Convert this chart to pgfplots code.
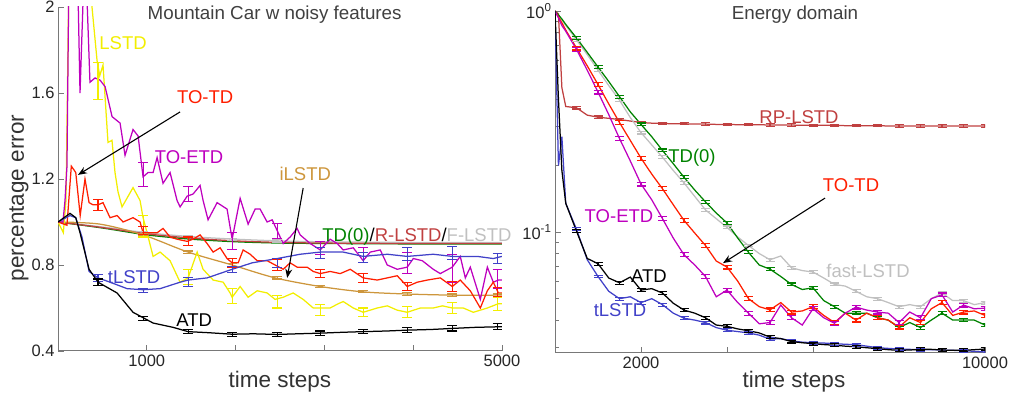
\documentclass[border=0pt]{standalone}
\usepackage{pgfplots}
\pgfplotsset{compat=1.18}
\usepackage{pgfplotstable}
\usetikzlibrary{arrows.meta}
\usepackage{fontspec}
\setmainfont{Liberation Sans}

\definecolor{cyel}{RGB}{242,238,0}
\definecolor{cred}{RGB}{255,30,0}
\definecolor{cmag}{RGB}{190,0,190}
\definecolor{cblue}{RGB}{65,65,200}
\definecolor{cgold}{RGB}{205,150,60}
\definecolor{cgreen}{RGB}{0,130,0}
\definecolor{crl}{RGB}{192,64,64}
\definecolor{cgray}{RGB}{192,192,192}
\definecolor{caxis}{RGB}{120,120,120}
\definecolor{ctitle}{RGB}{64,64,64}

\pgfplotsset{
  mystyle/.style={
    scale only axis, axis lines*=left,
    axis line style={caxis, line width=1pt},
    tick align=inside, major tick length=6pt, minor tick length=4pt,
    tick style={caxis, line width=0.8pt},
    ticklabel style={font=\fontsize{16.5}{18}\selectfont, text=black!85},
    /pgf/number format/assume math mode=true,
    scaled x ticks=false, scaled y ticks=false,
    clip mode=individual,
    every axis plot/.append style={line width=1.25pt},
  },
  ebl/.style={draw=none, mark=none,
    error bars/.cd, y dir=both, y explicit,
    error bar style={draw=#1, line width=1.1pt},
    error mark options={rotate=90, mark size=5pt, draw=#1, line width=1.1pt}},
  ebright/.style={draw=none, mark=none, skip coords between index={0}{4}, each nth point=2,
    error bars/.cd, y dir=both, y explicit relative,
    error bar style={draw=#1, line width=1.1pt},
    error mark options={rotate=90, mark size=4.5pt, draw=#1, line width=1.1pt}},
}
\newcommand{\annfont}{\fontsize{18.5}{20}\selectfont}

% ---------- Energy domain data (x, y) ----------
\pgfplotstableread[row sep=\\]{
x y\\ 0 1\\ 80 0.96\\ 160 0.92\\ 250 0.87\\ 500 0.755\\ 750 0.65\\ 1000 0.558\\ 1250 0.48\\ 1500 0.41\\ 1750 0.35\\ 2000 0.307\\ 2250 0.27\\ 2500 0.234\\ 2750 0.204\\ 3000 0.177\\ 3250 0.155\\ 3500 0.137\\ 3750 0.122\\ 4000 0.110\\ 4250 0.094\\ 4500 0.081\\ 4750 0.071\\ 5000 0.068\\ 5250 0.063\\ 5500 0.058\\ 5750 0.055\\ 6000 0.056\\ 6250 0.049\\ 6500 0.046\\ 6750 0.043\\ 7000 0.043\\ 7250 0.043\\ 7500 0.041\\ 7750 0.040\\ 8000 0.037\\ 8250 0.039\\ 8500 0.037\\ 8750 0.040\\ 9000 0.043\\ 9250 0.040\\ 9500 0.040\\ 9750 0.040\\ 10000 0.038\\
}\Etd
\pgfplotstableread[row sep=\\]{
x y\\ 0 1\\ 80 0.955\\ 160 0.91\\ 250 0.86\\ 500 0.74\\ 750 0.635\\ 1000 0.54\\ 1250 0.46\\ 1500 0.395\\ 1750 0.33\\ 2000 0.282\\ 2250 0.248\\ 2500 0.218\\ 2750 0.19\\ 3000 0.167\\ 3250 0.145\\ 3500 0.126\\ 3750 0.115\\ 4000 0.105\\ 4250 0.095\\ 4500 0.087\\ 4750 0.080\\ 5000 0.075\\ 5250 0.078\\ 5500 0.069\\ 5750 0.067\\ 6000 0.066\\ 6250 0.062\\ 6500 0.058\\ 6750 0.057\\ 7000 0.054\\ 7250 0.051\\ 7500 0.050\\ 7750 0.048\\ 8000 0.046\\ 8250 0.047\\ 8500 0.046\\ 8750 0.050\\ 9000 0.053\\ 9250 0.049\\ 9500 0.049\\ 9750 0.047\\ 10000 0.048\\
}\Efast
\pgfplotstableread[row sep=\\]{
x y\\ 0 1\\ 80 0.94\\ 160 0.885\\ 250 0.82\\ 500 0.68\\ 750 0.565\\ 1000 0.465\\ 1250 0.38\\ 1500 0.313\\ 1750 0.26\\ 2000 0.216\\ 2250 0.183\\ 2500 0.157\\ 2750 0.133\\ 3000 0.113\\ 3250 0.099\\ 3500 0.087\\ 3750 0.074\\ 4000 0.0695\\ 4250 0.060\\ 4500 0.050\\ 4750 0.046\\ 5000 0.0445\\ 5250 0.048\\ 5500 0.0435\\ 5750 0.044\\ 6000 0.046\\ 6250 0.042\\ 6500 0.039\\ 6750 0.043\\ 7000 0.040\\ 7250 0.043\\ 7500 0.041\\ 7750 0.040\\ 8000 0.0372\\ 8250 0.041\\ 8500 0.039\\ 8750 0.045\\ 9000 0.048\\ 9250 0.042\\ 9500 0.0435\\ 9750 0.044\\ 10000 0.042\\
}\Etotd
\pgfplotstableread[row sep=\\]{
x y\\ 0 1\\ 80 0.93\\ 160 0.86\\ 250 0.81\\ 500 0.67\\ 750 0.54\\ 1000 0.43\\ 1250 0.34\\ 1500 0.265\\ 1750 0.21\\ 2000 0.165\\ 2250 0.14\\ 2500 0.115\\ 2750 0.094\\ 3000 0.079\\ 3250 0.071\\ 3500 0.063\\ 3750 0.051\\ 4000 0.0547\\ 4250 0.048\\ 4500 0.043\\ 4750 0.0385\\ 5000 0.039\\ 5250 0.0468\\ 5500 0.041\\ 5750 0.038\\ 6000 0.045\\ 6250 0.041\\ 6500 0.0387\\ 6750 0.043\\ 7000 0.0458\\ 7250 0.0444\\ 7500 0.0435\\ 7750 0.043\\ 8000 0.039\\ 8250 0.0435\\ 8500 0.041\\ 8750 0.050\\ 9000 0.052\\ 9250 0.0435\\ 9500 0.0468\\ 9750 0.045\\ 10000 0.0453\\
}\Etoetd
\pgfplotstableread[row sep=\\]{
x y\\ 0 1\\ 80 0.97\\ 160 0.45\\ 250 0.37\\ 500 0.365\\ 750 0.338\\ 1000 0.331\\ 1250 0.327\\ 1500 0.323\\ 1750 0.318\\ 2000 0.313\\ 2250 0.311\\ 2500 0.31\\ 2750 0.309\\ 3000 0.309\\ 3250 0.308\\ 3500 0.308\\ 3750 0.307\\ 4000 0.307\\ 4250 0.306\\ 4500 0.306\\ 4750 0.306\\ 5000 0.305\\ 5250 0.305\\ 5500 0.305\\ 5750 0.304\\ 6000 0.304\\ 6250 0.304\\ 6500 0.304\\ 6750 0.303\\ 7000 0.303\\ 7250 0.303\\ 7500 0.303\\ 7750 0.302\\ 8000 0.302\\ 8250 0.302\\ 8500 0.302\\ 8750 0.302\\ 9000 0.302\\ 9250 0.302\\ 9500 0.302\\ 9750 0.302\\ 10000 0.302\\
}\Erp
\pgfplotstableread[row sep=\\]{
x y\\ 0 1\\ 80 0.4\\ 160 0.19\\ 250 0.135\\ 500 0.101\\ 750 0.076\\ 1000 0.072\\ 1250 0.062\\ 1500 0.059\\ 1750 0.0626\\ 2000 0.0547\\ 2250 0.0555\\ 2500 0.053\\ 2750 0.0477\\ 3000 0.0444\\ 3250 0.043\\ 3500 0.041\\ 3750 0.038\\ 4000 0.0375\\ 4250 0.0365\\ 4500 0.0358\\ 4750 0.035\\ 5000 0.0335\\ 5250 0.033\\ 5500 0.032\\ 5750 0.0316\\ 6000 0.0313\\ 6250 0.031\\ 6500 0.0308\\ 6750 0.0305\\ 7000 0.0303\\ 7250 0.030\\ 7500 0.0297\\ 7750 0.0294\\ 8000 0.0292\\ 8250 0.0293\\ 8500 0.0295\\ 8750 0.0295\\ 9000 0.0293\\ 9250 0.0292\\ 9500 0.0292\\ 9750 0.0294\\ 10000 0.0296\\
}\Eatd
\pgfplotstableread[row sep=\\]{
x y\\ 0 1\\ 80 0.2\\ 160 0.27\\ 250 0.135\\ 500 0.103\\ 750 0.075\\ 1000 0.063\\ 1250 0.054\\ 1500 0.050\\ 1750 0.051\\ 2000 0.048\\ 2250 0.050\\ 2500 0.047\\ 2750 0.043\\ 3000 0.0408\\ 3250 0.040\\ 3500 0.039\\ 3750 0.037\\ 4000 0.036\\ 4250 0.0355\\ 4500 0.035\\ 4750 0.0342\\ 5000 0.0328\\ 5250 0.033\\ 5500 0.0322\\ 5750 0.0318\\ 6000 0.0316\\ 6250 0.0315\\ 6500 0.0313\\ 6750 0.0311\\ 7000 0.031\\ 7250 0.0305\\ 7500 0.030\\ 7750 0.0298\\ 8000 0.0296\\ 8250 0.0295\\ 8500 0.0294\\ 8750 0.0294\\ 9000 0.0293\\ 9250 0.0292\\ 9500 0.0291\\ 9750 0.0289\\ 10000 0.0287\\
}\Etlstd

\begin{document}
\begin{tikzpicture}
\path[use as bounding box] (0,0) rectangle (1012pt,395pt);

% ================= Mountain Car =================
\begin{axis}[mystyle, at={(58pt,44pt)}, anchor=south west, width=444pt, height=344pt,
  xmin=0, xmax=5000, ymin=0.4, ymax=2,
  xtick={1000,2000,3000,4000,5000}, xticklabels={1000,,,,5000},
  ytick={0.4,0.8,1.2,1.6,2}]
% TD(0), R-LSTD, F-LSTD
\addplot[cgray, smooth] coordinates {(0,1.0)(500,0.977)(1000,0.95)(1500,0.932)(2000,0.92)(2500,0.912)(3000,0.908)(4000,0.905)(5000,0.905)};
\addplot[cgreen, smooth] coordinates {(0,1.0)(500,0.972)(1000,0.94)(1500,0.92)(2000,0.908)(2500,0.902)(3000,0.90)(4000,0.898)(5000,0.898)};
\addplot[crl, smooth] coordinates {(0,1.0)(500,0.974)(1000,0.945)(1500,0.925)(2000,0.912)(2500,0.905)(3000,0.902)(4000,0.90)(5000,0.90)};
% iLSTD
\addplot[cgold, smooth] coordinates {(0,1.0)(473,0.99)(958,0.94)(1465,0.86)(1961,0.80)(2445,0.74)(2953,0.70)(3437,0.675)(3933,0.665)(4440,0.66)(5000,0.66)};
% LSTD
\addplot[cyel] coordinates {(0,1.00)(60,0.95)(90,1.10)(125,2.2)(250,3.0)(360,2.1)(440,1.75)(470,1.68)(507,1.73)(563,1.37)(608,1.38)(642,1.23)(676,1.14)(721,1.07)(845,1.16)(924,1.10)(958,1.02)(1003,0.95)(1071,0.84)(1150,0.86)(1262,0.82)(1375,0.72)(1465,0.74)(1567,0.86)(1634,0.78)(1747,0.73)(1860,0.72)(1938,0.67)(1961,0.65)(2051,0.70)(2141,0.65)(2243,0.68)(2355,0.67)(2445,0.64)(2536,0.65)(2648,0.67)(2761,0.64)(2874,0.60)(2953,0.60)(3065,0.60)(3156,0.62)(3212,0.63)(3325,0.60)(3437,0.58)(3595,0.60)(3708,0.61)(3820,0.59)(3933,0.58)(4080,0.60)(4226,0.60)(4330,0.61)(4440,0.60)(4564,0.60)(4677,0.58)(4835,0.60)(4959,0.62)(5000,0.62)};
% TO-ETD
\addplot[cmag] coordinates {(0,1.0)(56,1.0)(79,1.10)(101,1.26)(124,2.2)(214,2.3)(248,1.60)(304,2.3)(360,1.65)(417,1.67)(473,1.66)(530,1.63)(609,1.49)(699,1.46)(755,1.31)(845,1.43)(902,1.40)(958,1.21)(1014,1.23)(1071,1.23)(1116,1.30)(1183,1.18)(1262,1.23)(1341,1.10)(1375,1.07)(1454,1.12)(1521,1.13)(1600,1.17)(1634,1.10)(1690,1.01)(1792,1.09)(1904,1.06)(1961,0.92)(2051,1.11)(2141,0.99)(2220,1.06)(2276,1.06)(2355,1.00)(2412,1.01)(2468,0.96)(2536,0.90)(2614,0.93)(2693,0.97)(2727,0.94)(2840,0.90)(2953,0.87)(3065,0.92)(3144,0.90)(3212,0.87)(3325,0.88)(3437,0.82)(3516,0.86)(3629,0.87)(3708,0.80)(3820,0.78)(3933,0.79)(4001,0.83)(4102,0.82)(4226,0.78)(4305,0.76)(4440,0.79)(4530,0.84)(4587,0.74)(4643,0.79)(4756,0.64)(4835,0.79)(4902,0.72)(4959,0.73)(5000,0.73)};
% TO-TD
\addplot[cred] coordinates {(0,1.0)(101,0.985)(150,1.26)(200,1.23)(250,1.03)(304,1.20)(350,1.09)(394,1.08)(451,1.08)(507,1.09)(586,1.02)(665,1.03)(733,1.00)(845,1.02)(924,1.00)(958,0.95)(1037,0.95)(1116,0.95)(1183,0.97)(1262,0.93)(1341,0.92)(1454,0.91)(1521,0.92)(1600,0.94)(1679,0.90)(1747,0.86)(1826,0.88)(1904,0.83)(1961,0.81)(2029,0.81)(2085,0.87)(2164,0.85)(2243,0.82)(2355,0.82)(2445,0.80)(2536,0.78)(2614,0.81)(2693,0.79)(2806,0.79)(2874,0.77)(2953,0.76)(3065,0.77)(3178,0.76)(3291,0.78)(3437,0.74)(3595,0.73)(3708,0.74)(3820,0.75)(3933,0.70)(4046,0.72)(4159,0.73)(4305,0.74)(4440,0.70)(4530,0.73)(4643,0.68)(4756,0.60)(4835,0.68)(4902,0.72)(4959,0.67)(5000,0.67)};
% tLSTD
\addplot[cblue] coordinates {(0,1.0)(135,1.03)(200,1.02)(270,0.93)(350,0.77)(451,0.74)(586,0.72)(778,0.69)(958,0.685)(1150,0.69)(1375,0.72)(1465,0.73)(1679,0.74)(1961,0.78)(2186,0.81)(2468,0.83)(2727,0.85)(2953,0.86)(3212,0.86)(3437,0.84)(3708,0.85)(3933,0.84)(4226,0.85)(4440,0.84)(4722,0.84)(4902,0.83)(5000,0.84)};
% ATD
\addplot[black] coordinates {(0,1.0)(135,1.04)(200,1.02)(248,0.95)(350,0.78)(451,0.72)(665,0.67)(845,0.58)(958,0.555)(1071,0.53)(1296,0.51)(1465,0.49)(1700,0.485)(1961,0.478)(2200,0.48)(2468,0.477)(2700,0.48)(2953,0.483)(3200,0.487)(3437,0.49)(3700,0.493)(3933,0.497)(4200,0.50)(4440,0.505)(4700,0.51)(5000,0.513)};
% error bars
\addplot[ebl=cgray] coordinates {(958,0.95)+-(0,0.005)(1465,0.933)+-(0,0.005)(1961,0.92)+-(0,0.005)(2468,0.912)+-(0,0.005)};
\addplot[ebl=cgold] coordinates {(958,0.94)+-(0,0.005)(1465,0.86)+-(0,0.005)(1961,0.80)+-(0,0.005)(2468,0.74)+-(0,0.005)(2953,0.70)+-(0,0.005)(3437,0.675)+-(0,0.005)(3933,0.665)+-(0,0.005)(4440,0.66)+-(0,0.005)(4950,0.66)+-(0,0.005)};
\addplot[ebl=cyel] coordinates {(451,1.655)+-(0,0.085)(958,0.98)+-(0,0.05)(1465,0.745)+-(0,0.035)(1961,0.655)+-(0,0.035)(2468,0.63)+-(0,0.03)(2953,0.59)+-(0,0.025)(3437,0.58)+-(0,0.02)(3933,0.58)+-(0,0.025)(4440,0.60)+-(0,0.025)(4950,0.62)+-(0,0.03)};
\addplot[ebl=cmag] coordinates {(958,1.22)+-(0,0.055)(1465,1.13)+-(0,0.035)(1961,0.91)+-(0,0.04)(2468,0.96)+-(0,0.035)(2953,0.88)+-(0,0.03)(3437,0.845)+-(0,0.035)(3933,0.81)+-(0,0.05)(4440,0.785)+-(0,0.065)(4950,0.735)+-(0,0.045)};
\addplot[ebl=cred] coordinates {(451,1.08)+-(0,0.025)(958,0.96)+-(0,0.02)(1465,0.91)+-(0,0.02)(1961,0.81)+-(0,0.02)(2468,0.80)+-(0,0.025)(2953,0.76)+-(0,0.02)(3437,0.74)+-(0,0.02)(3933,0.70)+-(0,0.02)(4440,0.70)+-(0,0.025)(4950,0.675)+-(0,0.02)};
\addplot[ebl=cblue] coordinates {(451,0.74)+-(0,0.015)(958,0.68)+-(0,0.01)(1465,0.72)+-(0,0.02)(1961,0.78)+-(0,0.015)(2468,0.81)+-(0,0.02)(2953,0.855)+-(0,0.025)(3437,0.835)+-(0,0.025)(3933,0.85)+-(0,0.03)(4440,0.855)+-(0,0.03)(4950,0.83)+-(0,0.025)};
\addplot[ebl=black] coordinates {(451,0.72)+-(0,0.015)(958,0.55)+-(0,0.01)(1465,0.49)+-(0,0.01)(1961,0.478)+-(0,0.01)(2468,0.477)+-(0,0.01)(2953,0.483)+-(0,0.01)(3437,0.49)+-(0,0.01)(3933,0.497)+-(0,0.012)(4440,0.505)+-(0,0.012)(4950,0.513)+-(0,0.015)};
% annotations
\node[anchor=base, text=ctitle, font=\fontsize{18.8}{20}\selectfont] at (axis cs:2440,1.94) {Mountain Car w noisy features};
\node[anchor=base, text=cyel, font=\annfont] at (axis cs:733,1.80) {LSTD};
\node[anchor=base, text=cred, font=\annfont] at (axis cs:1657,1.553) {TO-TD};
\draw[-{Stealth[length=9pt,width=7pt]}, line width=1.1pt] (axis cs:1375,1.512) -- (axis cs:225,1.219);
\node[anchor=base, text=cmag, font=\annfont] at (axis cs:1476,1.274) {TO-ETD};
\node[anchor=base, text=cgold, font=\annfont] at (axis cs:2784,1.195) {iLSTD};
\draw[-{Stealth[length=9pt,width=7pt]}, line width=1.1pt] (axis cs:2761,1.158) -- (axis cs:2581,0.740);
\node[anchor=base west, inner sep=0pt, font=\annfont] at (axis cs:2975,0.907) {\color{cgreen}TD(0)\color{black}/\color{crl}R-LSTD\color{black}/\color{cgray}F-LSTD};
\node[anchor=base, text=cblue, font=\annfont] at (axis cs:857,0.716) {tLSTD};
\node[anchor=base, text=black, font=\annfont] at (axis cs:1533,0.512) {ATD};
\end{axis}

% ================= Energy domain =================
\begin{axis}[mystyle, at={(555pt,42pt)}, anchor=south west, width=430pt, height=342pt,
  xmin=0, xmax=10000, ymode=log, ymin=0.0284, ymax=1,
  xtick={2000,4000,6000,8000,10000}, xticklabels={2000,,,,10000},
  ytick={0.1,1}, yticklabels={10\textsuperscript{-1},10\textsuperscript{0}},
  minor ytick={0.03,0.04,0.05,0.06,0.07,0.08,0.09,0.2,0.3,0.4,0.5,0.6,0.7,0.8,0.9}]
\addplot[crl] table[x=x,y=y]{\Erp};
\addplot[cgray] table[x=x,y=y]{\Efast};
\addplot[cgreen] table[x=x,y=y]{\Etd};
\addplot[cred] table[x=x,y=y]{\Etotd};
\addplot[cmag] table[x=x,y=y]{\Etoetd};
\addplot[cblue] table[x=x,y=y]{\Etlstd};
\addplot[black] table[x=x,y=y]{\Eatd};
\addplot[ebright=crl] table[x=x,y=y,y error expr=0.012]{\Erp};
\addplot[ebright=cgray] table[x=x,y=y,y error expr=0.015]{\Efast};
\addplot[ebright=cgreen] table[x=x,y=y,y error expr=0.015]{\Etd};
\addplot[ebright=cred] table[x=x,y=y,y error expr=0.02]{\Etotd};
\addplot[ebright=cmag] table[x=x,y=y,y error expr=0.02]{\Etoetd};
\addplot[ebright=cblue] table[x=x,y=y,y error expr=0.015]{\Etlstd};
\addplot[ebright=black] table[x=x,y=y,y error expr=0.015]{\Eatd};
\node[anchor=base, text=ctitle, font=\fontsize{18.8}{20}\selectfont] at (axis cs:5581,0.911) {Energy domain};
\node[anchor=base, text=crl, font=\annfont] at (axis cs:5674,0.311) {RP-LSTD};
\node[anchor=base, text=cgreen, font=\annfont] at (axis cs:3186,0.207) {TD(0)};
\node[anchor=base, text=cred, font=\annfont] at (axis cs:6884,0.153) {TO-TD};
\draw[-{Stealth[length=9pt,width=7pt]}, line width=1.1pt] (axis cs:6279,0.1425) -- (axis cs:3907,0.0724);
\node[anchor=base, text=cmag, font=\annfont] at (axis cs:1488,0.111) {TO-ETD};
\node[anchor=base, text=black, font=\annfont] at (axis cs:2186,0.0594) {ATD};
\node[anchor=base, text=cblue, font=\annfont] at (axis cs:1512,0.0417) {tLSTD};
\node[anchor=base, text=cgray, font=\annfont] at (axis cs:7279,0.0626) {fast-LSTD};
\end{axis}

\node[anchor=base, text=black!80, font=\fontsize{22.5}{26}\selectfont] at (280pt,7pt) {time steps};
\node[anchor=base, text=black!80, font=\fontsize{22.5}{26}\selectfont] at (794pt,7pt) {time steps};
\node[anchor=base, rotate=90, text=black!80, font=\fontsize{22.5}{26}\selectfont] at (24pt,197pt) {percentage error};
\end{tikzpicture}
\end{document}
